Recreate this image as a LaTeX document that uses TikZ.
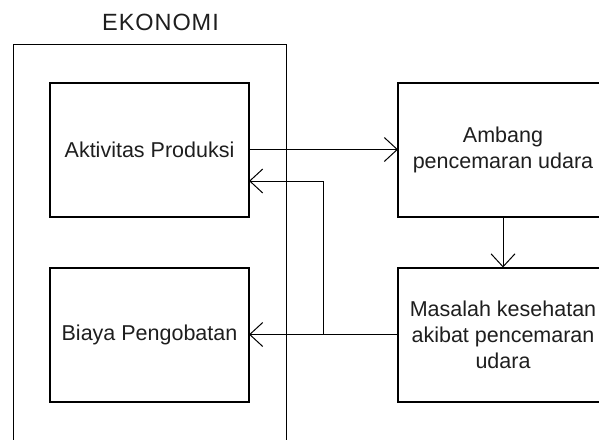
\documentclass[tikz,border=0pt]{standalone}
\usepackage{fontspec}
\setmainfont{Liberation Sans}
\usetikzlibrary{positioning, fit, calc, arrows.meta}
\definecolor{cgaris}{RGB}{0,0,0}
\definecolor{cteks}{RGB}{30,30,30}

\begin{document}
\begin{tikzpicture}[x=1pt, y=-1pt, >={Straight Barb[length=13pt, width=24pt]},
    font=\fontsize{21.5}{26}\selectfont, text=cteks,
    kotak/.style={draw=cgaris, line width=2pt, minimum width=199pt, minimum height=134pt, outer sep=0pt, align=center},
    kotakkanan/.style={kotak, minimum width=210pt},
    panah/.style={->, line width=1pt, draw=cgaris}]

  \useasboundingbox (0,0) rectangle (599,439);
  \clip (0,0) rectangle (599,439);

  \node[kotak] (produksi) at (149.5,149.5) {Aktivitas Produksi};
  \node[kotak, below=51.5pt of produksi] (biaya) {Biaya Pengobatan};
  \node[kotakkanan, right=149pt of produksi] (ambang) {Ambang\\pencemaran udara};
  \node[kotakkanan, below=51pt of ambang] (masalah) {Masalah kesehatan\\akibat pencemaran\\udara};

  % wilayah ekonomi
  \node[draw=cgaris, line width=1pt, fit=(produksi)(biaya), inner xsep=37pt, inner ysep=38pt] (ekonomi) {};
  \node[inner sep=0pt, above=13pt of ekonomi.north, xshift=11pt,
        font=\fontsize{23.5}{28}\selectfont] (judul) {\addfontfeature{LetterSpace=4}EKONOMI};

  % alur dampak
  \draw[panah] (produksi.east) -- (produksi.east -| ambang.west);
  \draw[panah] (ambang) -- (masalah);
  \draw[panah] (masalah.west) -- (masalah.west -| biaya.east);

  % umpan balik ke produksi
  \coordinate (cabang) at ($(masalah.west)!0.5!(masalah.west -| biaya.east)$);
  \draw[panah] (cabang) |- ([yshift=-31.5pt]produksi.east);
\end{tikzpicture}
\end{document}
